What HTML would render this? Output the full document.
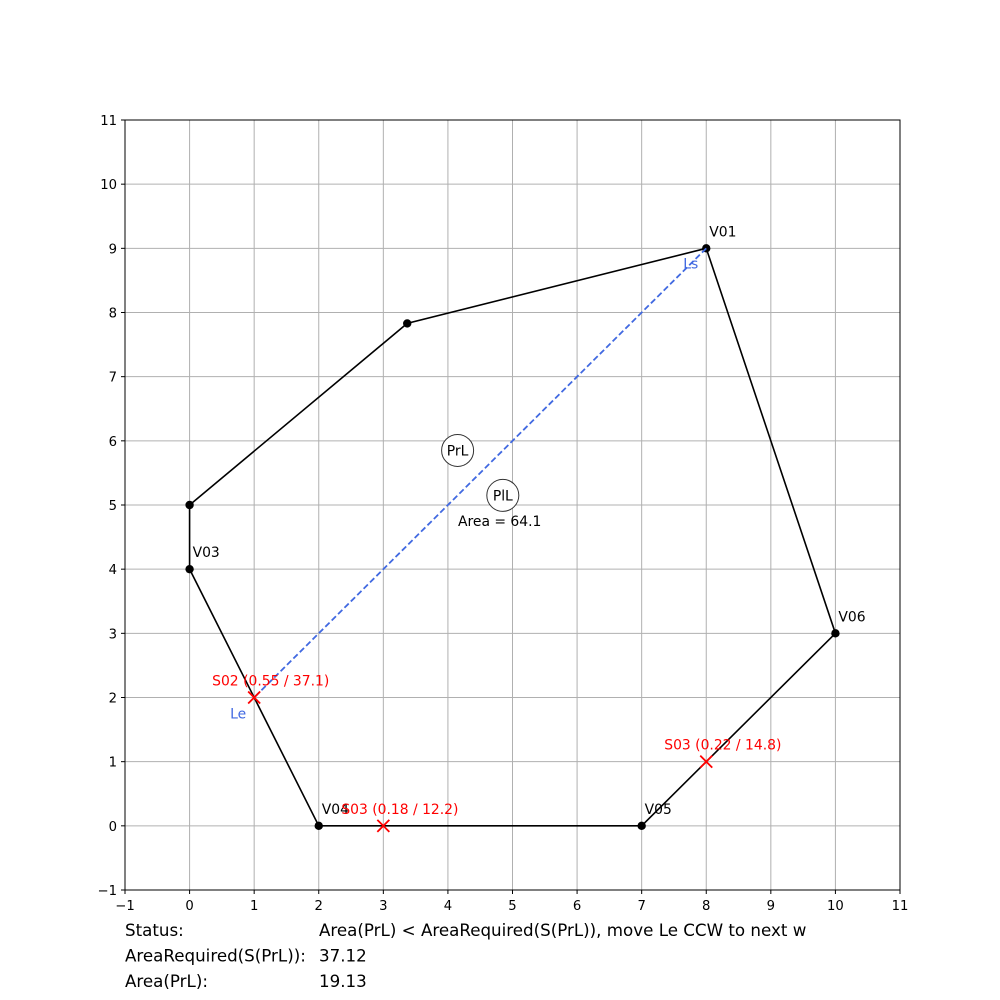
<!DOCTYPE html>
<html><head><meta charset="utf-8"><style>body{margin:0;background:#fff}svg{display:block;font-family:"DejaVu Sans","Liberation Sans",sans-serif}</style></head>
<body>
<svg id="c" width="1000" height="1000"></svg>
<script>
const xTicks=[-1,0,1,2,3,4,5,6,7,8,9,10,11];
const yTicks=[-1,0,1,2,3,4,5,6,7,8,9,10,11];
const polyX=[8,3.37,0,0,2,7,10,8];
const polyY=[9,7.83,5,4,0,0,3,9];
const vLabels=["V01","","","V03","V04","V05","V06"];
const lineX=[8,1];
const lineY=[9,2];
const markX=[1,3,8];
const markY=[2,0,1];
const markLabels=["S02 (0.55 / 37.1)","S03 (0.18 / 12.2)","S03 (0.22 / 14.8)"];
const statusLabels=["Status:","AreaRequired(S(PrL)):","Area(PrL):"];
const statusValues=["Area(PrL) < AreaRequired(S(PrL)), move Le CCW to next w","37.12","19.13"];
const NS="http://www.w3.org/2000/svg";
const svg=document.getElementById('c');
const X0=125,X1=900,Y0=890,Y1=120;
const sx=v=>X0+(v+1)/12*(X1-X0);
const sy=v=>Y0-(v+1)/12*(Y0-Y1);
const FS=13.2, LS=13.9;
function el(t,a,p){const e=document.createElementNS(NS,t);for(const k in a)e.setAttribute(k,a[k]);(p||svg).appendChild(e);return e;}
function txt(x,y,s,a){const e=el('text',Object.assign({x:x,y:y},a||{}));e.textContent=s;return e;}
xTicks.forEach(v=>{const l=el('line',{x1:sx(v),x2:sx(v),y1:Y0,y2:Y1,stroke:'#b0b0b0','stroke-width':1});


el('line',{x1:sx(v),x2:sx(v),y1:Y0,y2:Y0+4,stroke:'#000'});
const t=txt(sx(v),Y0+20,v<0?'\u2212'+(-v):String(v),{'font-size':FS,'text-anchor':'middle'});

});
yTicks.forEach(v=>{const l=el('line',{x1:X0,x2:X1,y1:sy(v),y2:sy(v),stroke:'#b0b0b0','stroke-width':1});


el('line',{x1:X0-4,x2:X0,y1:sy(v),y2:sy(v),stroke:'#000'});
const t=txt(X0-8,sy(v)+5,v<0?'\u2212'+(-v):String(v),{'font-size':FS,'text-anchor':'end'});

});
const fr=el('rect',{x:X0,y:Y1,width:X1-X0,height:Y0-Y1,fill:'none',stroke:'#000','stroke-width':1});


const pl=el('polyline',{points:polyX.map((x,i)=>sx(x)+','+sy(polyY[i])).join(' '),fill:'none',stroke:'#000','stroke-width':1.6});


for(let i=0;i<polyX.length-1;i++){const c=el('circle',{cx:sx(polyX[i]),cy:sy(polyY[i]),r:4.2,fill:'#000'});


if(vLabels[i]){const t=txt(sx(polyX[i])+3,sy(polyY[i])-12,vLabels[i],{'font-size':LS});

}}
const dl=el('line',{x1:sx(lineX[0]),y1:sy(lineY[0]),x2:sx(lineX[1]),y2:sy(lineY[1]),stroke:'#4169e1','stroke-width':1.8,'stroke-dasharray':'6,3'});


let t=txt(sx(lineX[0])-23,sy(lineY[0])+20,'Ls',{'font-size':LS,fill:'#4169e1'});


t=txt(sx(lineX[1])-24,sy(lineY[1])+21,'Le',{'font-size':LS,fill:'#4169e1'});


markX.forEach((x,i)=>{const cx=sx(x),cy=sy(markY[i]);
const g=el('g',{stroke:'#f00','stroke-width':1.8});


el('line',{x1:cx-6,y1:cy-6,x2:cx+6,y2:cy+6},g);el('line',{x1:cx-6,y1:cy+6,x2:cx+6,y2:cy-6},g);
const l=txt(cx-42,cy-12,markLabels[i],{'font-size':LS,fill:'#f00'});

});
[["PrL",4.15,5.85],["PlL",4.85,5.15]].forEach(a=>{const c=el('circle',{cx:sx(a[1]),cy:sy(a[2]),r:16,fill:'#fff',stroke:'#333'});


const l=txt(sx(a[1]),sy(a[2])+5,a[0],{'font-size':LS,'text-anchor':'middle'});

});
t=txt(458,526,'Area = 64.1',{'font-size':LS});


statusLabels.forEach((s,i)=>{let a=txt(125,936+i*25.5,s,{'font-size':16.7});


a=txt(319,936+i*25.5,statusValues[i],{'font-size':16.7});

});
</script>
</body></html>
